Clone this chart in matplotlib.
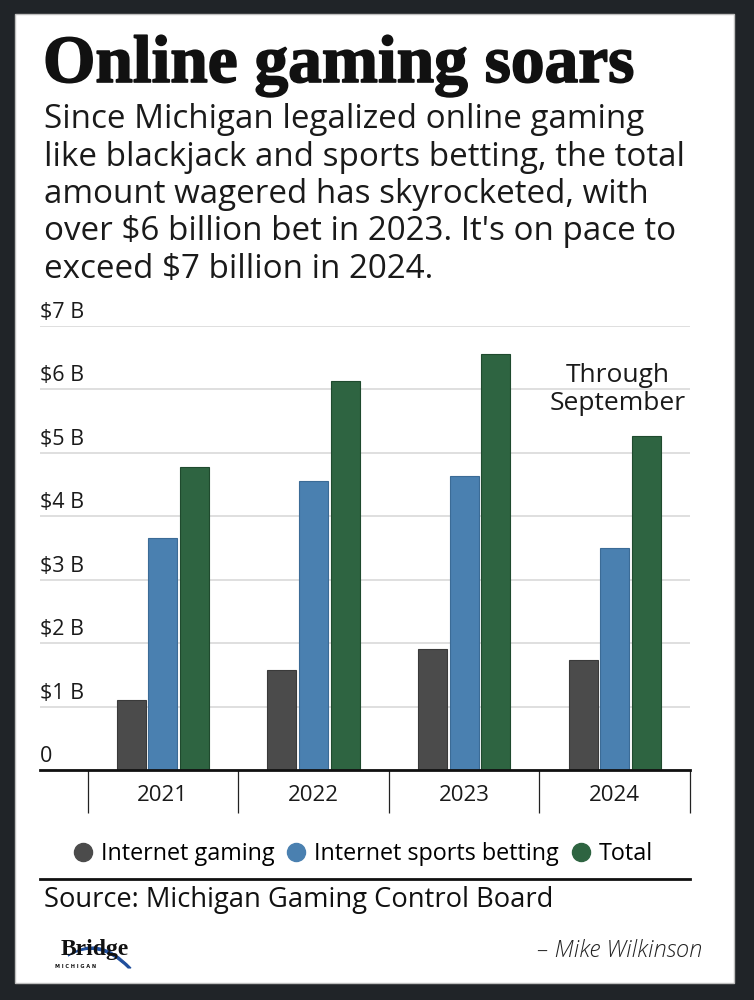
import matplotlib
matplotlib.use("Agg")
import matplotlib.pyplot as plt
import numpy as np
from matplotlib.patches import Rectangle, PathPatch
from matplotlib.lines import Line2D
from matplotlib.path import Path
import matplotlib.transforms as mtransforms
import matplotlib.patheffects as pe

# ---- data ----
years = ["2021", "2022", "2023", "2024"]
internet_gaming = [1.10, 1.57, 1.91, 1.74]
sports_betting = [3.65, 4.55, 4.63, 3.50]
total = [4.77, 6.14, 6.56, 5.27]
series_names = ["Internet gaming", "Internet sports betting", "Total"]
ytick_vals = [0, 1, 2, 3, 4, 5, 6, 7]
ytick_labels = ["0", "$1 B", "$2 B", "$3 B", "$4 B", "$5 B", "$6 B", "$7 B"]

colors = ["#4b4b4b", "#4a80b0", "#2e6441"]
edges = ["#3a3a3a", "#3b6b96", "#1f4a2e"]

W, H = 754, 1000
fig = plt.figure(figsize=(W / 100, H / 100), dpi=100)
fig.patch.set_facecolor("#202428")

def fx(px):
    return px / W

def fy(py):
    return 1 - py / H

# white card
card = Rectangle((fx(15), fy(983)), fx(734) - fx(15), fy(14) - fy(983),
                 transform=fig.transFigure, facecolor="white",
                 edgecolor="#bfbfbf", linewidth=1, zorder=0)
fig.add_artist(card)

FONT = "Open Sans"

# title
fig.text(fx(43), fy(82), "Online gaming soars", family="Liberation Serif",
         weight="bold", fontsize=48.5, color="#111111", ha="left", va="baseline",
         path_effects=[pe.withStroke(linewidth=1.2, foreground="#111111")])

subtitle_lines = [
    "Since Michigan legalized online gaming",
    "like blackjack and sports betting, the total",
    "amount wagered has skyrocketed, with",
    "over $6 billion bet in 2023. It's on pace to",
    "exceed $7 billion in 2024.",
]
for i, line in enumerate(subtitle_lines):
    fig.text(fx(44), fy(128 + i * 37.5), line, family=FONT, fontsize=23.9,
             color="#1a1a1a", ha="left", va="baseline")

# axes
ax_left, ax_right, ax_top, ax_bottom = 40, 690, 326, 770
ax = fig.add_axes([fx(ax_left), fy(ax_bottom), fx(ax_right) - fx(ax_left),
                   fy(ax_top) - fy(ax_bottom)])
ax.set_facecolor("none")
x = np.arange(len(years))
width = 0.193
step = 0.21
for k, (vals, c, ec) in enumerate(zip([internet_gaming, sports_betting, total], colors, edges)):
    ax.bar(x + (k - 1) * step, vals, width=width, color=c, edgecolor=ec,
           linewidth=0.8, zorder=3)

ax.set_ylim(0, 7)
ax.set_xlim(-0.5 - 47.5 / 150.6, 3.5)
ax.set_yticks(ytick_vals)
ax.set_yticklabels([])
ax.tick_params(axis="y", length=0)
ax.yaxis.grid(True, color="#dcdcdc", linewidth=1.3, zorder=0)
ax.set_axisbelow(True)
for s in ["left", "right", "top"]:
    ax.spines[s].set_visible(False)
ax.spines["bottom"].set_linewidth(2)
ax.spines["bottom"].set_color("#111111")
ax.spines["bottom"].set_zorder(5)

ax.set_xticks(x)
ax.set_xticklabels(years, family=FONT, fontsize=16, color="#1a1a1a", weight="medium")
ax.tick_params(axis="x", which="major", length=0, pad=11)
ax.set_xticks(np.arange(-0.5, len(years), 1.0), minor=True)
ax.tick_params(axis="x", which="minor", length=31, width=0.9, color="#222222",
               direction="out")

# y labels above gridlines, left aligned
trans = mtransforms.blended_transform_factory(ax.transAxes, ax.transData)
trans = mtransforms.offset_copy(trans, fig=fig, x=0, y=8 * 72 / 100, units="points")
for v, lab in zip(ytick_vals, ytick_labels):
    ax.text(0, v, lab, transform=trans, family=FONT, fontsize=15.5,
            color="#1a1a1a", ha="left", va="baseline", clip_on=False,
            weight="medium")

# annotation
ax.text(3.02, 6.0, "Through\nSeptember", family=FONT, fontsize=19,
        color="#1a1a1a", ha="center", va="center", linespacing=1.2,
        transform=ax.transData)

# legend
handles = [Line2D([], [], marker="o", linestyle="none", markersize=13,
                  markerfacecolor=c, markeredgecolor=c) for c in colors]
fig.legend(handles, series_names, loc="center", bbox_to_anchor=(fx(362), fy(854)),
           ncol=3, frameon=False, prop={"family": FONT, "size": 16.8},
           handletextpad=0.25, columnspacing=0.45, handlelength=1.0)

# rule
fig.add_artist(Line2D([fx(40), fx(690)], [fy(879), fy(879)],
                      transform=fig.transFigure, color="#111111", linewidth=2))

fig.text(fx(44), fy(907), "Source: Michigan Gaming Control Board", family=FONT,
         fontsize=19.7, color="#111111", ha="left", va="baseline")

fig.text(fx(702), fy(957), "\u2013 Mike Wilkinson", family=FONT, style="italic",
         fontsize=17, color="#222222", ha="right", va="baseline", weight="light")

# Bridge Michigan logo
fig.text(fx(61), fy(955), "Bridge", family="Liberation Serif", fontsize=17,
         weight="bold", color="#111111", ha="left", va="baseline")
fig.text(fx(55), fy(968), "M I C H I G A N", family="DejaVu Sans", fontsize=3.6,
         weight="bold", color="#111111", ha="left", va="baseline")
verts = [(fx(68), fy(956)), (fx(98), fy(933)), (fx(131), fy(968)),
         (fx(128), fy(968)), (fx(98), fy(938)), (fx(68), fy(956))]
codes = [Path.MOVETO, Path.CURVE3, Path.CURVE3, Path.LINETO, Path.CURVE3, Path.CURVE3]
fig.add_artist(PathPatch(Path(verts, codes), transform=fig.transFigure,
                         facecolor="#1f4e9c", edgecolor="#1f4e9c", linewidth=0.8))

fig.savefig("out.png", dpi=100, facecolor=fig.get_facecolor())
